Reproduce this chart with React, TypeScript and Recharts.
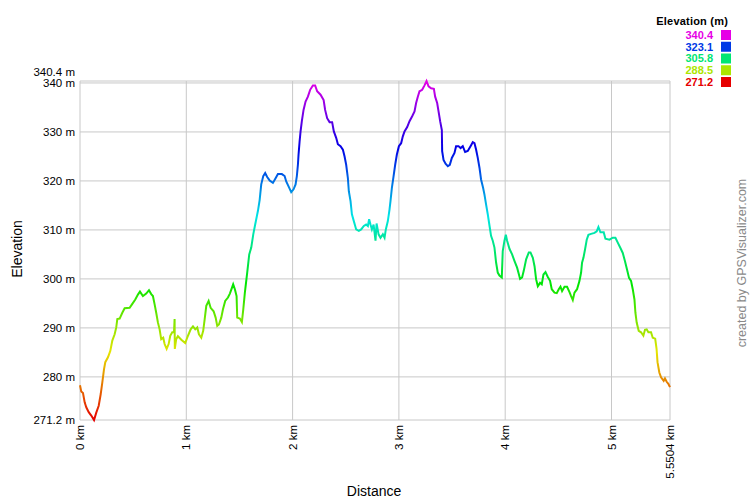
import { LineChart, Line, XAxis, YAxis, CartesianGrid } from 'recharts';

// distance along the track (km) and elevation (m)
const DIST_KM = [
  0, 0.012, 0.028, 0.044, 0.059, 0.082, 0.106, 0.132, 0.153, 0.176, 0.195, 0.21, 0.226, 0.238, 0.263,
  0.285, 0.304, 0.326, 0.341, 0.351, 0.373, 0.398, 0.42, 0.467, 0.489, 0.52, 0.545, 0.564, 0.592, 0.623,
  0.649, 0.67, 0.686, 0.702, 0.717, 0.733, 0.749, 0.764, 0.783, 0.796, 0.815, 0.834, 0.849, 0.868, 0.884,
  0.89, 0.892, 0.905, 0.921, 0.953, 0.99, 1.016, 1.041, 1.063, 1.084, 1.103, 1.119, 1.141, 1.159, 1.173,
  1.188, 1.21, 1.229, 1.257, 1.276, 1.291, 1.307, 1.329, 1.345, 1.366, 1.392, 1.41, 1.441, 1.457, 1.473,
  1.479, 1.504, 1.523, 1.536, 1.551, 1.573, 1.592, 1.611, 1.63, 1.648, 1.674, 1.69, 1.705, 1.724, 1.742,
  1.761, 1.784, 1.815, 1.836, 1.862, 1.899, 1.925, 1.94, 1.962, 1.987, 2.009, 2.028, 2.04, 2.05, 2.056,
  2.066, 2.075, 2.087, 2.103, 2.122, 2.144, 2.165, 2.191, 2.212, 2.231, 2.263, 2.292, 2.306, 2.325, 2.348,
  2.372, 2.388, 2.41, 2.426, 2.451, 2.473, 2.489, 2.504, 2.52, 2.529, 2.545, 2.558, 2.576, 2.598, 2.623,
  2.645, 2.67, 2.692, 2.708, 2.72, 2.733, 2.746, 2.762, 2.78, 2.79, 2.809, 2.827, 2.849, 2.865, 2.877,
  2.896, 2.912, 2.921, 2.934, 2.95, 2.965, 2.981, 3.0, 3.021, 3.037, 3.053, 3.078, 3.1, 3.125, 3.147,
  3.162, 3.178, 3.194, 3.219, 3.241, 3.26, 3.279, 3.303, 3.329, 3.341, 3.36, 3.373, 3.388, 3.404, 3.407,
  3.42, 3.439, 3.46, 3.479, 3.498, 3.523, 3.538, 3.561, 3.58, 3.601, 3.623, 3.648, 3.674, 3.695, 3.711,
  3.726, 3.742, 3.758, 3.773, 3.792, 3.805, 3.82, 3.836, 3.855, 3.867, 3.883, 3.899, 3.914, 3.93, 3.946,
  3.968, 3.977, 3.993, 4.006, 4.018, 4.041, 4.065, 4.087, 4.112, 4.128, 4.14, 4.159, 4.175, 4.197, 4.222,
  4.238, 4.26, 4.276, 4.291, 4.307, 4.328, 4.344, 4.36, 4.379, 4.401, 4.422, 4.438, 4.464, 4.485, 4.504,
  4.52, 4.535, 4.558, 4.582, 4.605, 4.62, 4.636, 4.652, 4.676, 4.699, 4.714, 4.723, 4.736, 4.751, 4.767,
  4.783, 4.808, 4.84, 4.861, 4.877, 4.896, 4.927, 4.943, 4.981, 5.012, 5.037, 5.059, 5.084, 5.106, 5.127,
  5.146, 5.165, 5.184, 5.2, 5.216, 5.225, 5.237, 5.256, 5.278, 5.3, 5.315, 5.331, 5.347, 5.372, 5.388,
  5.411, 5.424, 5.433, 5.45, 5.466, 5.491, 5.503, 5.519, 5.535, 5.5504,
];

const ELEV_M = [
  278.3, 277.0, 276.7, 274.8, 273.8, 272.8, 272.1, 271.2, 272.7, 274.1, 276.5, 278.9, 281.6, 283.0, 284.0,
  285.3, 287.4, 288.7, 290.1, 291.8, 291.9, 293.1, 294.0, 294.1, 294.8, 295.8, 296.8, 297.4, 296.5, 297.0,
  297.7, 296.9, 296.5, 294.8, 293.1, 291.1, 289.7, 287.7, 288.0, 286.7, 285.7, 286.7, 288.4, 289.1, 289.1,
  291.8, 285.7, 287.7, 288.3, 287.6, 286.9, 288.4, 289.7, 290.3, 289.7, 290.1, 288.7, 288.0, 289.4, 291.8,
  294.5, 295.5, 294.1, 293.4, 292.1, 290.4, 290.7, 292.1, 293.8, 295.5, 296.2, 297.0, 298.9, 297.9, 296.5,
  292.1, 291.9, 291.2, 293.8, 297.2, 301.3, 305.0, 306.4, 309.1, 311.1, 313.9, 316.1, 319.3, 321.0, 321.6,
  320.8, 320.1, 319.6, 320.4, 321.4, 321.4, 321.0, 319.9, 318.9, 317.7, 318.3, 319.3, 321.0, 323.3, 325.4,
  328.1, 330.1, 332.2, 334.5, 336.2, 337.2, 338.6, 339.5, 339.5, 338.3, 337.6, 336.5, 334.5, 332.8, 332.0,
  332.0, 330.1, 328.8, 327.5, 327.1, 326.4, 325.0, 323.3, 320.6, 317.9, 315.9, 313.2, 311.8, 310.1, 309.8,
  310.1, 310.8, 311.1, 310.8, 312.2, 311.1, 310.1, 311.1, 307.8, 311.3, 309.1, 308.4, 309.1, 308.4, 310.1,
  311.8, 314.2, 315.9, 318.6, 321.0, 323.3, 325.4, 327.1, 327.7, 329.1, 330.1, 331.0, 332.2, 333.2, 334.2,
  335.9, 337.2, 338.3, 338.6, 339.5, 340.4, 339.3, 338.9, 338.8, 337.2, 335.9, 334.2, 332.2, 330.4, 326.1,
  324.3, 323.5, 323.0, 323.3, 324.7, 325.7, 327.1, 327.1, 326.7, 327.1, 325.9, 326.1, 327.1, 327.9, 327.7,
  326.4, 324.7, 322.7, 320.3, 318.6, 317.2, 315.2, 313.2, 310.5, 308.8, 307.8, 306.4, 303.4, 301.3, 300.7,
  300.3, 305.7, 307.8, 309.0, 307.8, 306.1, 305.0, 303.7, 302.3, 301.0, 300.0, 300.3, 301.7, 304.0, 305.4,
  305.4, 304.3, 302.6, 299.9, 298.5, 299.2, 298.9, 300.9, 301.4, 300.4, 299.6, 297.9, 297.2, 297.1, 297.9,
  298.4, 297.5, 298.4, 298.4, 297.3, 296.5, 295.7, 297.2, 297.9, 299.6, 301.3, 303.3, 304.3, 306.0, 308.0,
  309.0, 309.2, 309.4, 309.7, 310.6, 309.5, 309.5, 308.2, 308.0, 308.4, 308.4, 307.4, 306.3, 305.3, 303.6,
  301.9, 300.2, 299.6, 297.9, 295.8, 293.1, 291.1, 289.4, 289.1, 288.4, 289.6, 289.7, 289.1, 289.1, 288.0,
  287.8, 285.7, 283.0, 280.9, 279.9, 279.2, 279.7, 279.0, 278.6, 277.9,
];

const X_TICKS = [0, 1, 2, 3, 4, 5, 5.5504];
const Y_TICKS = [271.2, 280, 290, 300, 310, 320, 330, 340, 340.4];
const LEGEND_VALUES = [340.4, 323.1, 305.8, 288.5, 271.2];

const MIN_ELEV = 271.2;
const MAX_ELEV = 340.4;
const FONT = '"Liberation Sans", Arial, sans-serif';

const data = DIST_KM.map((d, i) => ({ d, elev: ELEV_M[i] }));

// red (low) -> yellow -> green -> cyan -> blue -> magenta (high)
function elevColor(v: number) {
  const hue = (300 * (v - MIN_ELEV)) / (MAX_ELEV - MIN_ELEV);
  return `hsl(${hue.toFixed(1)}, 100%, 45%)`;
}

const STOP_OFFSETS = Array.from({ length: 21 }, (_, i) => i / 20);

function YTick({ x, y, payload }: any) {
  const v = payload.value as number;
  return (
    <text
      x={x}
      y={v === MAX_ELEV ? y - 9 : y}
      dy="0.35em"
      textAnchor="end"
      fontSize={11.5}
      fontFamily={FONT}
      fill="#000"
    >
      {`${v} m`}
    </text>
  );
}

function XTick({ x, y, payload }: any) {
  return (
    <g transform={`translate(${x},${y})`}>
      <text
        transform="rotate(-90)"
        textAnchor="end"
        dy="0.35em"
        fontSize={11.5}
        fontFamily={FONT}
        fill="#000"
      >
        {`${payload.value} km`}
      </text>
    </g>
  );
}

export default function App() {
  return (
    <div style={{ position: 'absolute', left: 0, top: 0, width: 750, height: 500, background: '#fff' }}>
      <LineChart width={750} height={500} data={data} margin={{ top: 81, right: 80, bottom: 0, left: 0 }}>
        <defs>
          <linearGradient id="elevGradient" x1="0" y1="0" x2="0" y2="1">
            {STOP_OFFSETS.map((o) => (
              <stop key={o} offset={o} stopColor={elevColor(MAX_ELEV - o * (MAX_ELEV - MIN_ELEV))} />
            ))}
          </linearGradient>
        </defs>
        <CartesianGrid stroke="#c8c8c8" />
        <XAxis
          type="number"
          dataKey="d"
          domain={[0, 5.5504]}
          ticks={X_TICKS}
          interval={0}
          height={80}
          tickSize={0}
          tickMargin={5}
          axisLine={false}
          tick={XTick}
        />
        <YAxis
          type="number"
          domain={[MIN_ELEV, MAX_ELEV]}
          ticks={Y_TICKS}
          interval={0}
          width={80}
          tickSize={0}
          tickMargin={5}
          axisLine={false}
          tick={YTick}
        />
        <Line
          type="linear"
          dataKey="elev"
          stroke="url(#elevGradient)"
          strokeWidth={2}
          dot={false}
          isAnimationActive={false}
        />
      </LineChart>

      <svg width={750} height={500} style={{ position: 'absolute', left: 0, top: 0, pointerEvents: 'none' }}>
        <text x={17} y={249} transform="rotate(-90 17 249)" textAnchor="middle" dy="0.35em" fontSize={14} fontFamily={FONT} fill="#000">
          Elevation
        </text>
        <text x={374} y={491} textAnchor="middle" dy="0.35em" fontSize={14} fontFamily={FONT} fill="#000">
          Distance
        </text>
        <text x={742} y={263} transform="rotate(-90 742 263)" textAnchor="middle" dy="0.35em" fontSize={12.5} fontFamily={FONT} fill="#8a8a8a">
          created by GPSVisualizer.com
        </text>
        <text x={728} y={21} textAnchor="end" dy="0.35em" fontSize={11} fontWeight="bold" fontFamily={FONT} fill="#000" letterSpacing={0.2}>
          Elevation (m)
        </text>
        {LEGEND_VALUES.map((v, i) => (
          <g key={v}>
            <text x={713} y={35 + i * 11.75} textAnchor="end" dy="0.35em" fontSize={11} fontWeight="bold" fontFamily={FONT} fill={elevColor(v)}>
              {v.toFixed(1)}
            </text>
            <rect x={721} y={30 + i * 11.75} width={10} height={10} fill={elevColor(v)} />
          </g>
        ))}
      </svg>
    </div>
  );
}
